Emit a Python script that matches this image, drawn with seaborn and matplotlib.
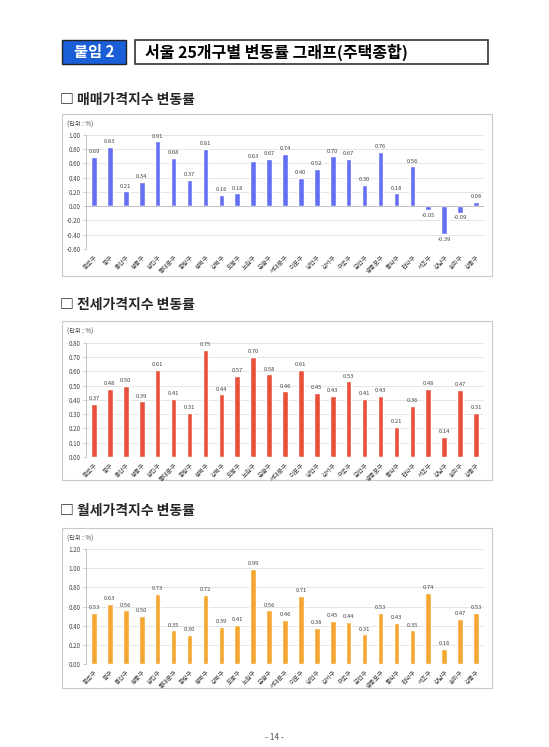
import matplotlib
matplotlib.use('Agg')
import matplotlib.pyplot as plt
import matplotlib.patches as patches
import seaborn as sns
import pandas as pd

# 서울 25개구
districts = ['종로구', '중구', '용산구', '성동구', '광진구', '동대문구', '중랑구', '성북구',
             '강북구', '도봉구', '노원구', '은평구', '서대문구', '마포구', '양천구', '강서구',
             '구로구', '금천구', '영등포구', '동작구', '관악구', '서초구', '강남구', '송파구', '강동구']

# 매매가격지수 변동률
sale_rate = [0.69, 0.83, 0.21, 0.34, 0.91, 0.68, 0.37, 0.81, 0.16, 0.18, 0.63, 0.67, 0.74,
             0.40, 0.52, 0.70, 0.67, 0.30, 0.76, 0.18, 0.56, -0.05, -0.39, -0.09, 0.06]
# 전세가격지수 변동률
jeonse_rate = [0.37, 0.48, 0.50, 0.39, 0.61, 0.41, 0.31, 0.75, 0.44, 0.57, 0.70, 0.58, 0.46,
               0.61, 0.45, 0.43, 0.53, 0.41, 0.43, 0.21, 0.36, 0.48, 0.14, 0.47, 0.31]
# 월세가격지수 변동률
monthly_rate = [0.53, 0.63, 0.56, 0.50, 0.73, 0.35, 0.30, 0.72, 0.39, 0.41, 0.99, 0.56, 0.46,
                0.71, 0.38, 0.45, 0.44, 0.31, 0.53, 0.43, 0.35, 0.74, 0.16, 0.47, 0.53]

sections = ['매매가격지수 변동률', '전세가격지수 변동률', '월세가격지수 변동률']
y_ranges = [(-0.60, 1.00, 0.20), (0.00, 0.80, 0.10), (0.00, 1.20, 0.20)]
bar_colors = ['#6470f2', '#e8503c', '#f5a733']

sns.set_theme(style='white')
plt.rcParams['font.family'] = ['Noto Sans CJK KR', 'DejaVu Sans']

W, H = 549, 747
fig = plt.figure(figsize=(W / 100, H / 100), dpi=100)


def fx(px):
    return px / W


def fy(py):
    return 1 - py / H


def add_rect(x0, y0, x1, y1, **kw):
    fig.patches.append(patches.Rectangle((fx(x0), fy(y1)), fx(x1 - x0), (y1 - y0) / H,
                                         transform=fig.transFigure, zorder=-1, **kw))


# 머리 제목
add_rect(62, 40, 126, 64, facecolor='#1a5fd8', edgecolor='#222222', linewidth=1.0)
fig.text(fx(94), fy(52), '붙임 2', color='white', fontsize=11, fontweight='bold',
         ha='center', va='center')
add_rect(135, 40, 488, 64, facecolor='white', edgecolor='#333333', linewidth=1.2)
fig.text(fx(145), fy(52), '서울 25개구별 변동률 그래프(주택종합)', color='black', fontsize=11.5,
         fontweight='bold', ha='left', va='center')

# 차트 위치 (px): 상자, 축 영역
boxes = [(62, 114, 492, 276), (62, 321, 492, 480), (62, 528, 492, 688)]
axes_px = [(86, 135, 484, 249), (86, 343, 484, 457), (86, 549, 484, 664)]
head_y = [100, 305, 511]

for i in range(3):
    values = [sale_rate, jeonse_rate, monthly_rate][i]
    fig.text(fx(60), fy(head_y[i]), '□ ' + sections[i], fontsize=10, fontweight='bold',
             ha='left', va='center')
    bx0, by0, bx1, by1 = boxes[i]
    add_rect(bx0, by0, bx1, by1, facecolor='white', edgecolor='#c8c8c8', linewidth=0.8)
    fig.text(fx(bx0 + 5), fy(by0 + 11), '(단위 : %)', fontsize=4.5, color='#444444',
             ha='left', va='center')

    ax0, ay0, ax1, ay1 = axes_px[i]
    ax = fig.add_axes([fx(ax0), fy(ay1), fx(ax1 - ax0), (ay1 - ay0) / H])
    ax.set_zorder(2)
    df = pd.DataFrame({'구': districts, '변동률': values})
    sns.barplot(data=df, x='구', y='변동률', color=bar_colors[i], saturation=1,
                width=0.35, ax=ax)
    lo, hi, step = y_ranges[i]
    ax.set_ylim(lo, hi)
    n = int(round((hi - lo) / step))
    ticks = [round(lo + k * step, 2) for k in range(n + 1)]
    ax.set_yticks(ticks)
    ax.set_yticklabels(['%.2f' % t for t in ticks], fontsize=4.5, color='#444444')
    ax.yaxis.grid(True, color='#e0e0e0', linewidth=0.6)
    ax.set_axisbelow(True)
    ax.set_xlim(-0.5, len(districts) - 0.5)
    ax.set_xlabel('')
    ax.set_ylabel('')
    ax.set_xticks(range(len(districts)))
    ax.set_xticklabels(districts, rotation=45, ha='right', rotation_mode='anchor',
                       fontsize=4.5, color='#444444')
    ax.tick_params(axis='x', length=0, pad=3)
    ax.tick_params(axis='y', length=2, width=0.5, color='#bbbbbb', pad=2, left=True)
    for s in ['top', 'right', 'bottom']:
        ax.spines[s].set_visible(False)
    ax.spines['left'].set_color('#bbbbbb')
    ax.spines['left'].set_linewidth(0.6)
    ax.axhline(0, color='#bbbbbb', linewidth=0.6)
    ax.set_facecolor('none')
    ax.bar_label(ax.containers[0], fmt='%.2f', padding=2, fontsize=4.2, color='#444444')

fig.text(0.5, fy(737), '- 14 -', fontsize=6, color='#555555', ha='center', va='center')

fig.savefig('out.png', dpi=100)
